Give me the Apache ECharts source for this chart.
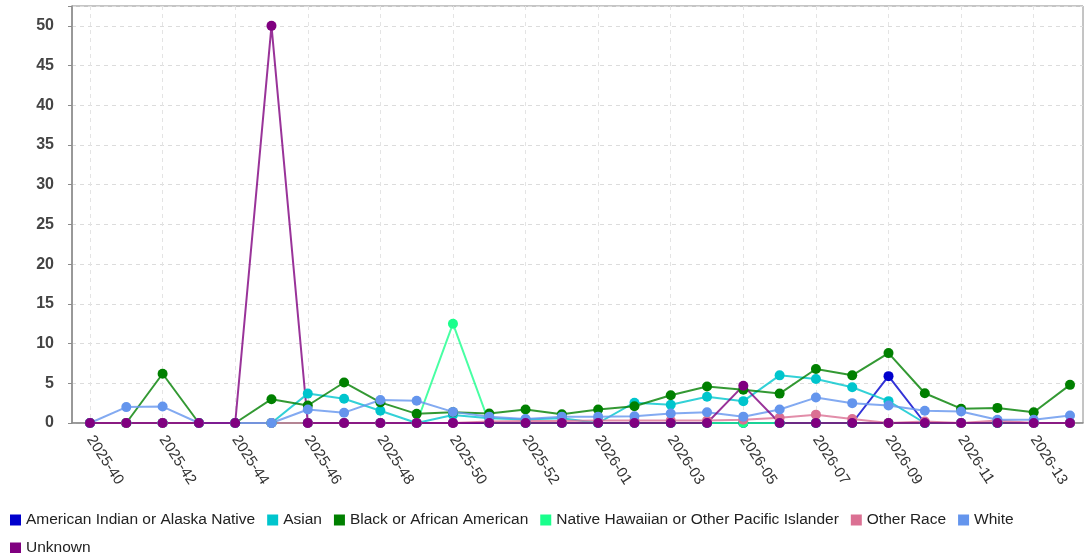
<!DOCTYPE html>
<html>
<head>
<meta charset="utf-8">
<script src="https://cdn.jsdelivr.net/npm/echarts@6/dist/echarts.min.js"></script>
<style>
html,body{margin:0;padding:0;background:#fff;}
#chart{width:1085px;height:553px;}
</style>
</head>
<body>
<div id="chart"></div>
<script>
const weeks = ['2025-40','2025-41','2025-42','2025-43','2025-44','2025-45','2025-46','2025-47','2025-48','2025-49','2025-50','2025-51','2025-52','2025-53',
  '2026-01','2026-02','2026-03','2026-04','2026-05','2026-06','2026-07','2026-08','2026-09','2026-10','2026-11','2026-12','2026-13','2026-14'];
const seriesNames = ['American Indian or Alaska Native','Asian','Black or African American','Native Hawaiian or Other Pacific Islander','Other Race','White','Unknown'];
const seriesColors = ['#0000cd','#00c5cd','#008000','#1aff8c','#db7093','#6495ed','#800080'];
const amIndian = [0,0,0,0,0,0,0,0,0,0,0,0,0,0,0,0,0,0,0,0,0,0,5.9,0,0,0,0,0];
const asian    = [0,0,0,0,0,0,3.7,3.05,1.55,0,1.0,0.6,0.45,0.6,0,2.55,2.3,3.3,2.75,6.0,5.55,4.5,2.75,0,0,0,0,0];
const black    = [0,0,6.2,0,0,3.0,2.2,5.1,2.6,1.15,1.35,1.2,1.7,1.1,1.7,2.1,3.5,4.6,4.2,3.7,6.8,6.0,8.8,3.75,1.8,1.9,1.35,4.8];
const nhpi     = [0,0,0,0,0,0,0,0,0,0,12.5,0,0,0,0,0,0,0,0,0,0,0,0,0,0,0,0,0];
const otherRace= [0,0,0,0,0,0,0,0,0,0,0,0.2,0.25,0.25,0.3,0.3,0.3,0.3,0.4,0.65,1.05,0.5,0,0.2,0,0.3,0,0];
const white    = [0,2.0,2.07,0,0,0,1.7,1.3,2.9,2.8,1.4,0.8,0.5,0.8,0.8,0.85,1.2,1.36,0.8,1.7,3.2,2.5,2.2,1.55,1.45,0.4,0.4,0.95];
const unknown  = [0,0,0,0,0,50,0,0,0,0,0,0,0,0,0,0,0,0,4.7,0,0,0,0,0,0,0,0,0];
const seriesData = [amIndian, asian, black, nhpi, otherRace, white, unknown];
const yTicks = [0,5,10,15,20,25,30,35,40,45,50];

const chart = echarts.init(document.getElementById('chart'), null, {renderer:'canvas'});
const yMax = 52.5;
const option = {
  animation: false,
  backgroundColor: '#fff',
  grid: [
    {left:72, right:2, top:6, bottom:130, show:true, borderColor:'#8a8a8a', borderWidth:1, backgroundColor:'transparent'},
    {left:90, right:15, top:6, bottom:130}
  ],
  legend: {
    left: 5, top: 507,
    icon: 'rect', itemWidth: 11, itemHeight: 11, itemGap: 12,
    textStyle: {fontFamily:'Liberation Sans, Arial, sans-serif', fontSize:15.5, color:'#222'},
    data: seriesNames
  },
  xAxis: [
    {gridIndex:0, type:'value', min:0, max:1, offset:8,
     axisLine:{show:true, lineStyle:{color:'#8a8a8a', width:1.5}},
     axisTick:{show:false}, axisLabel:{show:false}, splitLine:{show:false}},
    {gridIndex:1, type:'category', data:weeks, boundaryGap:false, offset:8,
     axisLine:{show:false},
     axisTick:{show:true, interval:1, length:4, lineStyle:{color:'#8a8a8a'}},
     axisLabel:{interval:1, rotate:-57, margin:6, fontSize:15, color:'#333', fontFamily:'Liberation Sans, Arial, sans-serif'},
     splitLine:{show:true, interval:1, lineStyle:{color:'#e4e4e4', type:[4,4]}}}
  ],
  yAxis: [
    {gridIndex:0, type:'value', min:0, max:yMax, interval:5, offset:8,
     axisLine:{show:true, lineStyle:{color:'#8a8a8a', width:1.5}},
     axisTick:{show:true, length:4, lineStyle:{color:'#8a8a8a'}},
     axisLabel:{margin:10, fontSize:16, fontWeight:'bold', color:'#444', fontFamily:'Liberation Sans, Arial, sans-serif',
       formatter: v => yTicks.includes(v) ? String(v) : ''},
     splitLine:{show:true, lineStyle:{color:'#dcdcdc', type:[4,4]}}},
    {gridIndex:1, type:'value', min:0, max:yMax, show:false, splitLine:{show:false}}
  ],
  series: seriesNames.map((name, k) => ({
    name: name,
    type: 'line',
    xAxisIndex: 1, yAxisIndex: 1,
    data: seriesData[k],
    color: seriesColors[k],
    symbol: 'circle', symbolSize: 10,
    showAllSymbol: true,
    lineStyle: {width: 2, opacity: 0.8},
    itemStyle: {color: seriesColors[k]}
  }))
};
chart.setOption(option);
</script>
</body>
</html>
